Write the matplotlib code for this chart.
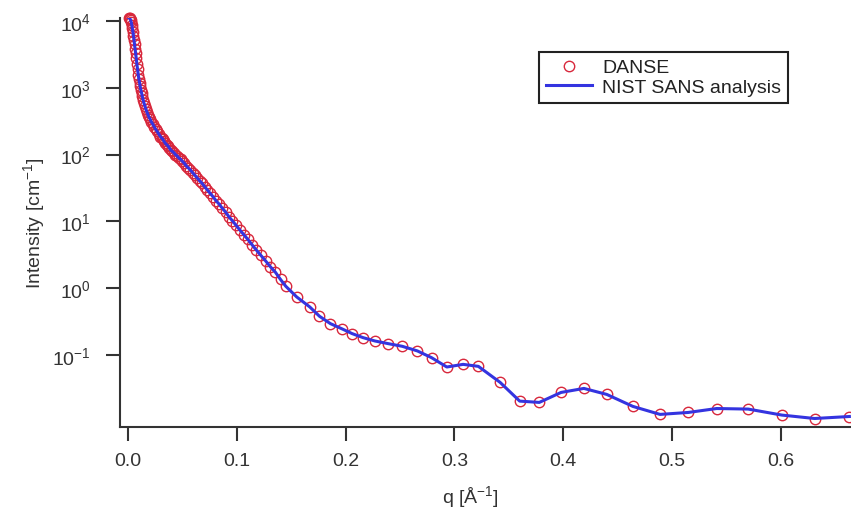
import matplotlib as mpl

mpl.use("Agg")

import matplotlib.pyplot as plt  # noqa: E402
import matplotlib.ticker as mticker  # noqa: E402

IMAGE_DPI = 100.0
WIDTH = 851
HEIGHT = 510

# q [1/A]
Q = [
    0.0010, 0.0015, 0.0020, 0.0025, 0.0030, 0.0035, 0.0040, 0.0045, 0.0050, 0.0055,
    0.0060, 0.0065, 0.0070, 0.0076, 0.0082, 0.0088, 0.0094, 0.0100, 0.0106, 0.0112,
    0.0118, 0.0125, 0.0132, 0.0139, 0.0147, 0.0155, 0.0164, 0.0173, 0.0183, 0.0193,
    0.0204, 0.0215, 0.0227, 0.0240, 0.0253, 0.0267, 0.0282, 0.0298, 0.0309, 0.0320,
    0.0331, 0.0343, 0.0355, 0.0367, 0.0380, 0.0393, 0.0407, 0.0421, 0.0436, 0.0451,
    0.0467, 0.0483, 0.0500, 0.0518, 0.0536, 0.0555, 0.0574, 0.0594, 0.0615, 0.0636,
    0.0658, 0.0681, 0.0705, 0.0730, 0.0755, 0.0782, 0.0809, 0.0837, 0.0866, 0.0897,
    0.0928, 0.0960, 0.0994, 0.1029, 0.1065, 0.1102, 0.1140, 0.1180, 0.1222, 0.1264,
    0.1309, 0.1354, 0.1402, 0.1450, 0.155, 0.167, 0.176, 0.186, 0.197, 0.206,
    0.216, 0.227, 0.239, 0.252, 0.266, 0.279, 0.293, 0.308, 0.322, 0.342,
    0.360, 0.378, 0.398, 0.419, 0.440, 0.464, 0.489, 0.515, 0.541, 0.570,
    0.601, 0.631, 0.663,
]

# DANSE / NIST intensity [1/cm]
INTENSITY = [
    11100, 10960, 10700, 10200, 9550, 8710, 7760, 6920, 6030, 5250,
    4470, 3800, 3310, 2750, 2240, 1900, 1580, 1350, 1200, 1050,
    933, 832, 741, 661, 589, 537, 479, 437, 398, 363,
    339, 309, 288, 263, 240, 224, 204, 186, 178, 170,
    158, 148, 141, 135, 126, 117, 112, 107, 100, 95.5,
    89.1, 85.1, 79.4, 74.1, 67.6, 63.1, 58.9, 53.7, 49.0, 44.7,
    40.7, 37.2, 33.1, 29.5, 26.3, 23.4, 20.4, 18.2, 15.8, 13.8,
    11.7, 10.2, 8.71, 7.41, 6.31, 5.37, 4.47, 3.72, 3.09, 2.57,
    2.09, 1.74, 1.35, 1.07, 0.741, 0.525, 0.380, 0.295, 0.245, 0.209,
    0.182, 0.162, 0.148, 0.135, 0.115, 0.0912, 0.0661, 0.0724, 0.0676, 0.0389,
    0.0204, 0.0195, 0.0275, 0.0316, 0.0257, 0.0170, 0.0129, 0.0138, 0.0158, 0.0155,
    0.0126, 0.0112, 0.0120,
]

XTICKS = [0.0, 0.1, 0.2, 0.3, 0.4, 0.5, 0.6]
XTICK_LABELS = ["0.0", "0.1", "0.2", "0.3", "0.4", "0.5", "0.6"]
YTICKS = [1e-1, 1e0, 1e1, 1e2, 1e3, 1e4]
YTICK_LABELS = [r"$10^{-1}$", r"$10^{0}$", r"$10^{1}$", r"$10^{2}$", r"$10^{3}$", r"$10^{4}$"]

TEXT_COLOR = "#333333"
AXIS_COLOR = "#333333"

plt.rcParams["font.family"] = ["Liberation Sans", "DejaVu Sans"]
plt.rcParams["mathtext.fontset"] = "custom"
plt.rcParams["mathtext.rm"] = "Liberation Sans"
plt.rcParams["mathtext.it"] = "Liberation Sans:italic"
plt.rcParams["mathtext.default"] = "regular"

fig = plt.figure(figsize=(WIDTH / IMAGE_DPI, HEIGHT / IMAGE_DPI), dpi=IMAGE_DPI, facecolor="white")
ax = fig.add_axes([120 / WIDTH, 1 - 428 / HEIGHT, (WIDTH - 120) / WIDTH, (428 - 19) / HEIGHT])

ax.plot(
    Q,
    INTENSITY,
    linestyle="none",
    marker="o",
    markersize=7.5,
    markerfacecolor="none",
    markeredgecolor="#d8283c",
    markeredgewidth=1.0,
    clip_on=False,
    label="DANSE",
    zorder=2,
)
ax.plot(Q, INTENSITY, color="#3434e0", linewidth=2.2, label="NIST SANS analysis", zorder=3)

ax.set_yscale("log")
ax.set_xlim(-0.00735, 0.6645)
ax.set_ylim(10 ** -2.078, 10 ** 4.045)

ax.xaxis.set_major_locator(mticker.FixedLocator(XTICKS))
ax.xaxis.set_major_formatter(mticker.FixedFormatter(XTICK_LABELS))
ax.yaxis.set_major_locator(mticker.FixedLocator(YTICKS))
ax.yaxis.set_major_formatter(mticker.FixedFormatter(YTICK_LABELS))
ax.yaxis.set_minor_locator(mticker.NullLocator())
ax.xaxis.set_minor_locator(mticker.NullLocator())

for side in ["top", "right"]:
    ax.spines[side].set_visible(False)
for side in ["left", "bottom"]:
    ax.spines[side].set_color(AXIS_COLOR)
    ax.spines[side].set_linewidth(1.5)

ax.tick_params(
    axis="both", direction="out", length=10, width=1.5, color=AXIS_COLOR,
    labelsize=14, labelcolor=TEXT_COLOR,
)
ax.tick_params(axis="x", pad=8)
ax.tick_params(axis="y", pad=11)

ax.set_xlabel(r"q [Å$^{-1}$]", fontsize=14, color=TEXT_COLOR)
ax.set_ylabel(r"Intensity [cm$^{-1}$]", fontsize=14, color=TEXT_COLOR)
ax.xaxis.set_label_coords((470 - 120) / (WIDTH - 120), -(484 - 428) / (428 - 19))
ax.yaxis.set_label_coords((47 - 120) / (WIDTH - 120), 0.5)

legend = ax.legend(
    loc="upper right",
    bbox_to_anchor=((788 - 120) / (WIDTH - 120), (428 - 53) / (428 - 19)),
    borderaxespad=0,
    fontsize=14,
    frameon=True,
    fancybox=False,
    framealpha=1,
    handlelength=2.4,
    handletextpad=0.5,
    labelspacing=0.1,
    borderpad=0.35,
)
legend.get_frame().set_edgecolor("#222222")
legend.get_frame().set_linewidth(1.5)
for text in legend.get_texts():
    text.set_color("#222222")

fig.savefig("out.png", dpi=IMAGE_DPI, facecolor="white")
